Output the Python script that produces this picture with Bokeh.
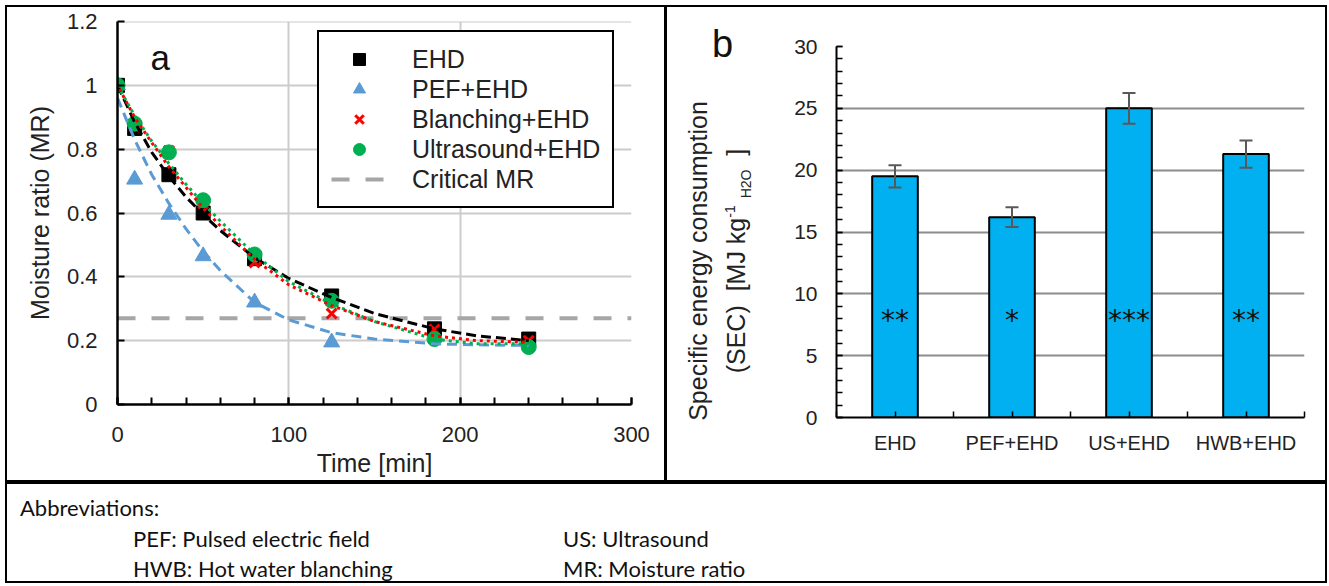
from bokeh.plotting import figure
from bokeh.models import (Legend, LegendItem, Label, SingleIntervalTicker, FixedTicker,
                          Whisker, ColumnDataSource, Div, TeeHead, Range1d, NumeralTickFormatter)
from bokeh.layouts import column, row
from bokeh.core.properties import value
from bokeh.embed import file_html
from bokeh.resources import INLINE

FONT = "Liberation Sans"

# ---------------- panel a: drying kinetics ----------------
time_min = [0, 10, 30, 50, 80, 125, 185, 240]
mr_ehd = [1.0, 0.865, 0.72, 0.60, 0.457, 0.34, 0.237, 0.205]
time_pef = [0, 10, 30, 50, 80, 125]
mr_pef = [1.0, 0.705, 0.595, 0.465, 0.32, 0.195]
mr_blanch = [1.0, 0.87, 0.795, 0.63, 0.445, 0.285, 0.235, 0.20]
mr_us = [1.0, 0.88, 0.79, 0.64, 0.47, 0.325, 0.205, 0.18]
critical_mr = 0.27
time_span = [0, 300]

fit_time = [0, 10, 20, 30, 40, 50, 60, 80, 100, 125, 150, 185, 210, 240]
fit_ehd = [1.00, 0.885, 0.790, 0.715, 0.650, 0.595, 0.545, 0.460, 0.395, 0.335, 0.285, 0.237, 0.215, 0.200]
fit_pef = [0.96, 0.830, 0.720, 0.630, 0.550, 0.480, 0.420, 0.320, 0.265, 0.225, 0.205, 0.190, 0.187, 0.185]
fit_blanch = [1.00, 0.900, 0.820, 0.745, 0.680, 0.615, 0.560, 0.455, 0.375, 0.310, 0.260, 0.215, 0.200, 0.195]
fit_us = [1.00, 0.905, 0.825, 0.755, 0.690, 0.630, 0.575, 0.470, 0.385, 0.315, 0.260, 0.205, 0.190, 0.190]

# ---------------- panel b: specific energy consumption ----------------
sec_categories = ["EHD", "PEF+EHD", "US+EHD", "HWB+EHD"]
sec_mean = [19.5, 16.2, 25.0, 21.3]
sec_sd = [0.9, 0.8, 1.25, 1.1]
sec_significance = ["**", "*", "***", "**"]
star_level = 8

C_EHD = "black"
C_PEF = "#5B9BD5"
C_BL = "#FF0000"
C_US = "#00B050"
C_CRIT = "#A6A6A6"
C_BAR = "#00B0F0"
TXT = "#222222"

TOP_H = 473      # height of the two chart panels
BOT_H = 97       # height of the abbreviations box
INNER_W = 1318   # inner width between the outer rules

# ======================= panel a =======================
pa = figure(width=657, height=TOP_H, x_range=Range1d(0, 300), y_range=Range1d(0, 1.2000001),
            title=None, output_backend="svg", toolbar_location=None, margin=0,
            min_border_left=110, min_border_right=33, min_border_top=14, min_border_bottom=76,
            background_fill_color="white", border_fill_color="white", outline_line_color=None)

pa.xaxis.ticker = SingleIntervalTicker(interval=100, num_minor_ticks=5)
pa.yaxis.ticker = SingleIntervalTicker(interval=0.2, num_minor_ticks=0)
pa.yaxis.formatter = NumeralTickFormatter(format="0.[0]")
pa.xgrid.ticker = SingleIntervalTicker(interval=100)
pa.ygrid.ticker = SingleIntervalTicker(interval=0.2)
for g in (pa.xgrid, pa.ygrid):
    g.grid_line_color = "#CCCCCC"
    g.grid_line_width = 2

for ax in (pa.xaxis, pa.yaxis):
    ax.axis_line_color = "black"
    ax.axis_line_width = 2.5
    ax.major_tick_line_color = "black"
    ax.major_tick_line_width = 2
    ax.minor_tick_line_color = "black"
    ax.minor_tick_line_width = 2
    ax.major_tick_in = 7
    ax.major_tick_out = 0
    ax.minor_tick_in = 7
    ax.minor_tick_out = 0
    ax.major_label_text_font = FONT
    ax.major_label_text_font_size = "22px"
    ax.major_label_text_color = TXT
    ax.axis_label_text_font = FONT
    ax.axis_label_text_font_size = "25px"
    ax.axis_label_text_font_style = "normal"
    ax.axis_label_text_color = TXT

pa.xaxis.axis_label = "Time [min]"
pa.yaxis.axis_label = "Moisture ratio (MR)"
pa.xaxis.major_label_standoff = 22
pa.xaxis.axis_label_standoff = 4
pa.yaxis.major_label_standoff = 20
pa.yaxis.axis_label_standoff = 10

r_crit = pa.line(time_span, [critical_mr] * len(time_span), line_color=C_CRIT,
                 line_width=4, line_dash="18 16")

r_sq = pa.scatter(time_min, mr_ehd, marker="square", size=14, color=C_EHD)
r_tri = pa.scatter(time_pef, mr_pef, marker="triangle", size=16, color=C_PEF)
r_x = pa.scatter(time_min, mr_blanch, marker="x", size=14, line_color=C_BL, line_width=3)
r_ci = pa.scatter(time_min, mr_us, marker="circle", size=15, color=C_US)

pa.line(fit_time, fit_pef, line_color=C_PEF, line_width=3, line_dash="10 6")
pa.line(fit_time, fit_ehd, line_color=C_EHD, line_width=3, line_dash="10 5")
pa.line(fit_time, fit_us, line_color=C_US, line_width=3, line_dash="3 4")
pa.line(fit_time, fit_blanch, line_color=C_BL, line_width=3, line_dash="3 4",
        line_dash_offset=3)

legend = Legend(items=[
    LegendItem(label="EHD", renderers=[r_sq]),
    LegendItem(label="PEF+EHD", renderers=[r_tri]),
    LegendItem(label="Blanching+EHD", renderers=[r_x]),
    LegendItem(label="Ultrasound+EHD", renderers=[r_ci]),
    LegendItem(label="Critical MR", renderers=[r_crit]),
], location=(200, 196))
legend.border_line_color = "black"
legend.border_line_alpha = 1.0
legend.border_line_width = 2
legend.padding = 12
legend.spacing = 0
legend.margin = 0
legend.glyph_height = 30
legend.glyph_width = 56
legend.label_height = 30
legend.label_standoff = 25
legend.label_text_font = FONT
legend.label_text_font_size = "25px"
legend.label_text_color = TXT
legend.background_fill_color = "white"
legend.background_fill_alpha = 1
pa.add_layout(legend)

pa.add_layout(Label(x=33, y=347, x_units="screen", y_units="screen", text="a",
                    text_font=FONT, text_font_size="35px", text_baseline="alphabetic",
                    text_color="#111111"))

# ======================= panel b: y-axis title strip (HTML) =======================
title_html = """
<div style="position:relative;width:100px;height:473px;font-family:'Liberation Sans',Arial,sans-serif;color:#222;">
  <div style="position:absolute;left:45px;top:18px;font-size:38px;line-height:38px;color:#111;">b</div>
  <div style="position:absolute;left:55px;top:254px;width:0;height:0;">
    <div style="position:absolute;left:0;top:0;transform:translate(-50%,-50%) rotate(-90deg);white-space:nowrap;font-size:25px;line-height:32px;text-align:center;">
      Specific energy consumption<br>(SEC)&nbsp;&nbsp;[MJ kg<sup style="font-size:14px;">-1</sup>&nbsp;<sub style="font-size:14px;">H2O</sub>&nbsp;&nbsp;]
    </div>
  </div>
</div>
"""
pt = Div(text=title_html, width=100, height=TOP_H, margin=0)

# ======================= panel b: bars =======================
xs = list(range(1, len(sec_categories) + 1))
upper = [m + s for m, s in zip(sec_mean, sec_sd)]
lower = [m - s for m, s in zip(sec_mean, sec_sd)]
src = ColumnDataSource(dict(x=xs, mean=sec_mean, upper=upper, lower=lower,
                            star=sec_significance, star_y=[star_level] * len(xs)))

pb = figure(width=558, height=TOP_H, x_range=Range1d(0.5, len(xs) + 0.5), y_range=Range1d(0, 30),
            title=None, output_backend="svg", toolbar_location=None, margin=0,
            min_border_left=69, min_border_right=21, min_border_top=39, min_border_bottom=63,
            background_fill_color="white", border_fill_color="white", outline_line_color=None)

pb.xgrid.grid_line_color = None
pb.ygrid.ticker = SingleIntervalTicker(interval=5)
pb.ygrid.grid_line_color = "#8C8C8C"
pb.ygrid.grid_line_width = 2

pb.yaxis.ticker = SingleIntervalTicker(interval=5, num_minor_ticks=5)
pb.xaxis.ticker = FixedTicker(ticks=xs, minor_ticks=[x - 0.5 for x in xs] + [xs[-1] + 0.5])
pb.xaxis.major_label_overrides = {x: c for x, c in zip(xs, sec_categories)}

for ax in (pb.xaxis, pb.yaxis):
    ax.axis_line_color = "black"
    ax.axis_line_width = 2
    ax.major_tick_line_color = "black"
    ax.major_tick_line_width = 1.5
    ax.minor_tick_line_color = "black"
    ax.minor_tick_line_width = 1.5
    ax.major_tick_in = 6
    ax.major_tick_out = 0
    ax.minor_tick_in = 6
    ax.minor_tick_out = 0
    ax.major_label_text_color = TXT
    ax.major_label_text_font = FONT

pb.yaxis.major_label_text_font_size = "21px"
pb.yaxis.major_label_standoff = 19
pb.xaxis.major_label_text_font_size = "20px"
pb.xaxis.major_label_standoff = 14

pb.vbar(x="x", top="mean", width=0.39, source=src, fill_color=C_BAR,
        line_color="black", line_width=2)

wh = Whisker(base="x", upper="upper", lower="lower", source=src,
             line_color="#595959", line_width=2, level="overlay",
             upper_head=TeeHead(size=13, line_color="#595959", line_width=2),
             lower_head=TeeHead(size=13, line_color="#595959", line_width=2))
pb.add_layout(wh)

pb.text(x="x", y="star_y", text="star", source=src, text_align="center",
        text_baseline="middle", text_font=value("DejaVu Sans"), text_font_size="28px",
        text_color="#111111", y_offset=2)

# ======================= abbreviations box =======================
abbr_html = """
<div style="position:relative;width:1318px;height:97px;font-family:Lato,'Open Sans',sans-serif;font-size:22px;line-height:26px;color:#111;">
<span style="position:absolute;left:13px;top:11px;white-space:nowrap">Abbreviations:</span>
<span style="position:absolute;left:126px;top:42px;white-space:nowrap">PEF: Pulsed electric field</span>
<span style="position:absolute;left:556px;top:42px;white-space:nowrap">US: Ultrasound</span>
<span style="position:absolute;left:126px;top:72px;white-space:nowrap">HWB: Hot water blanching</span>
<span style="position:absolute;left:556px;top:72px;white-space:nowrap">MR: Moisture ratio</span>
</div>
"""
abbr = Div(text=abbr_html, width=INNER_W, height=BOT_H, margin=0)


def rule(w, h):
    return Div(text="", width=w, height=h, margin=0, styles={"background-color": "black"})


def gap(w, h):
    return Div(text="", width=w, height=h, margin=0)


top_row = row(rule(2, TOP_H), column(pa, margin=0), rule(3, TOP_H), pt,
              column(pb, margin=0), rule(2, TOP_H), margin=0)
bottom_row = row(rule(2, BOT_H), abbr, rule(2, BOT_H), margin=0)
boxed = column(rule(INNER_W + 4, 2), top_row, rule(INNER_W + 4, 4), bottom_row,
               rule(INNER_W + 4, 2), margin=0)
layout = column(gap(1327, 5), row(gap(5, 578), boxed, margin=0), margin=0)
open("out.html", "w").write(file_html(layout, INLINE))
